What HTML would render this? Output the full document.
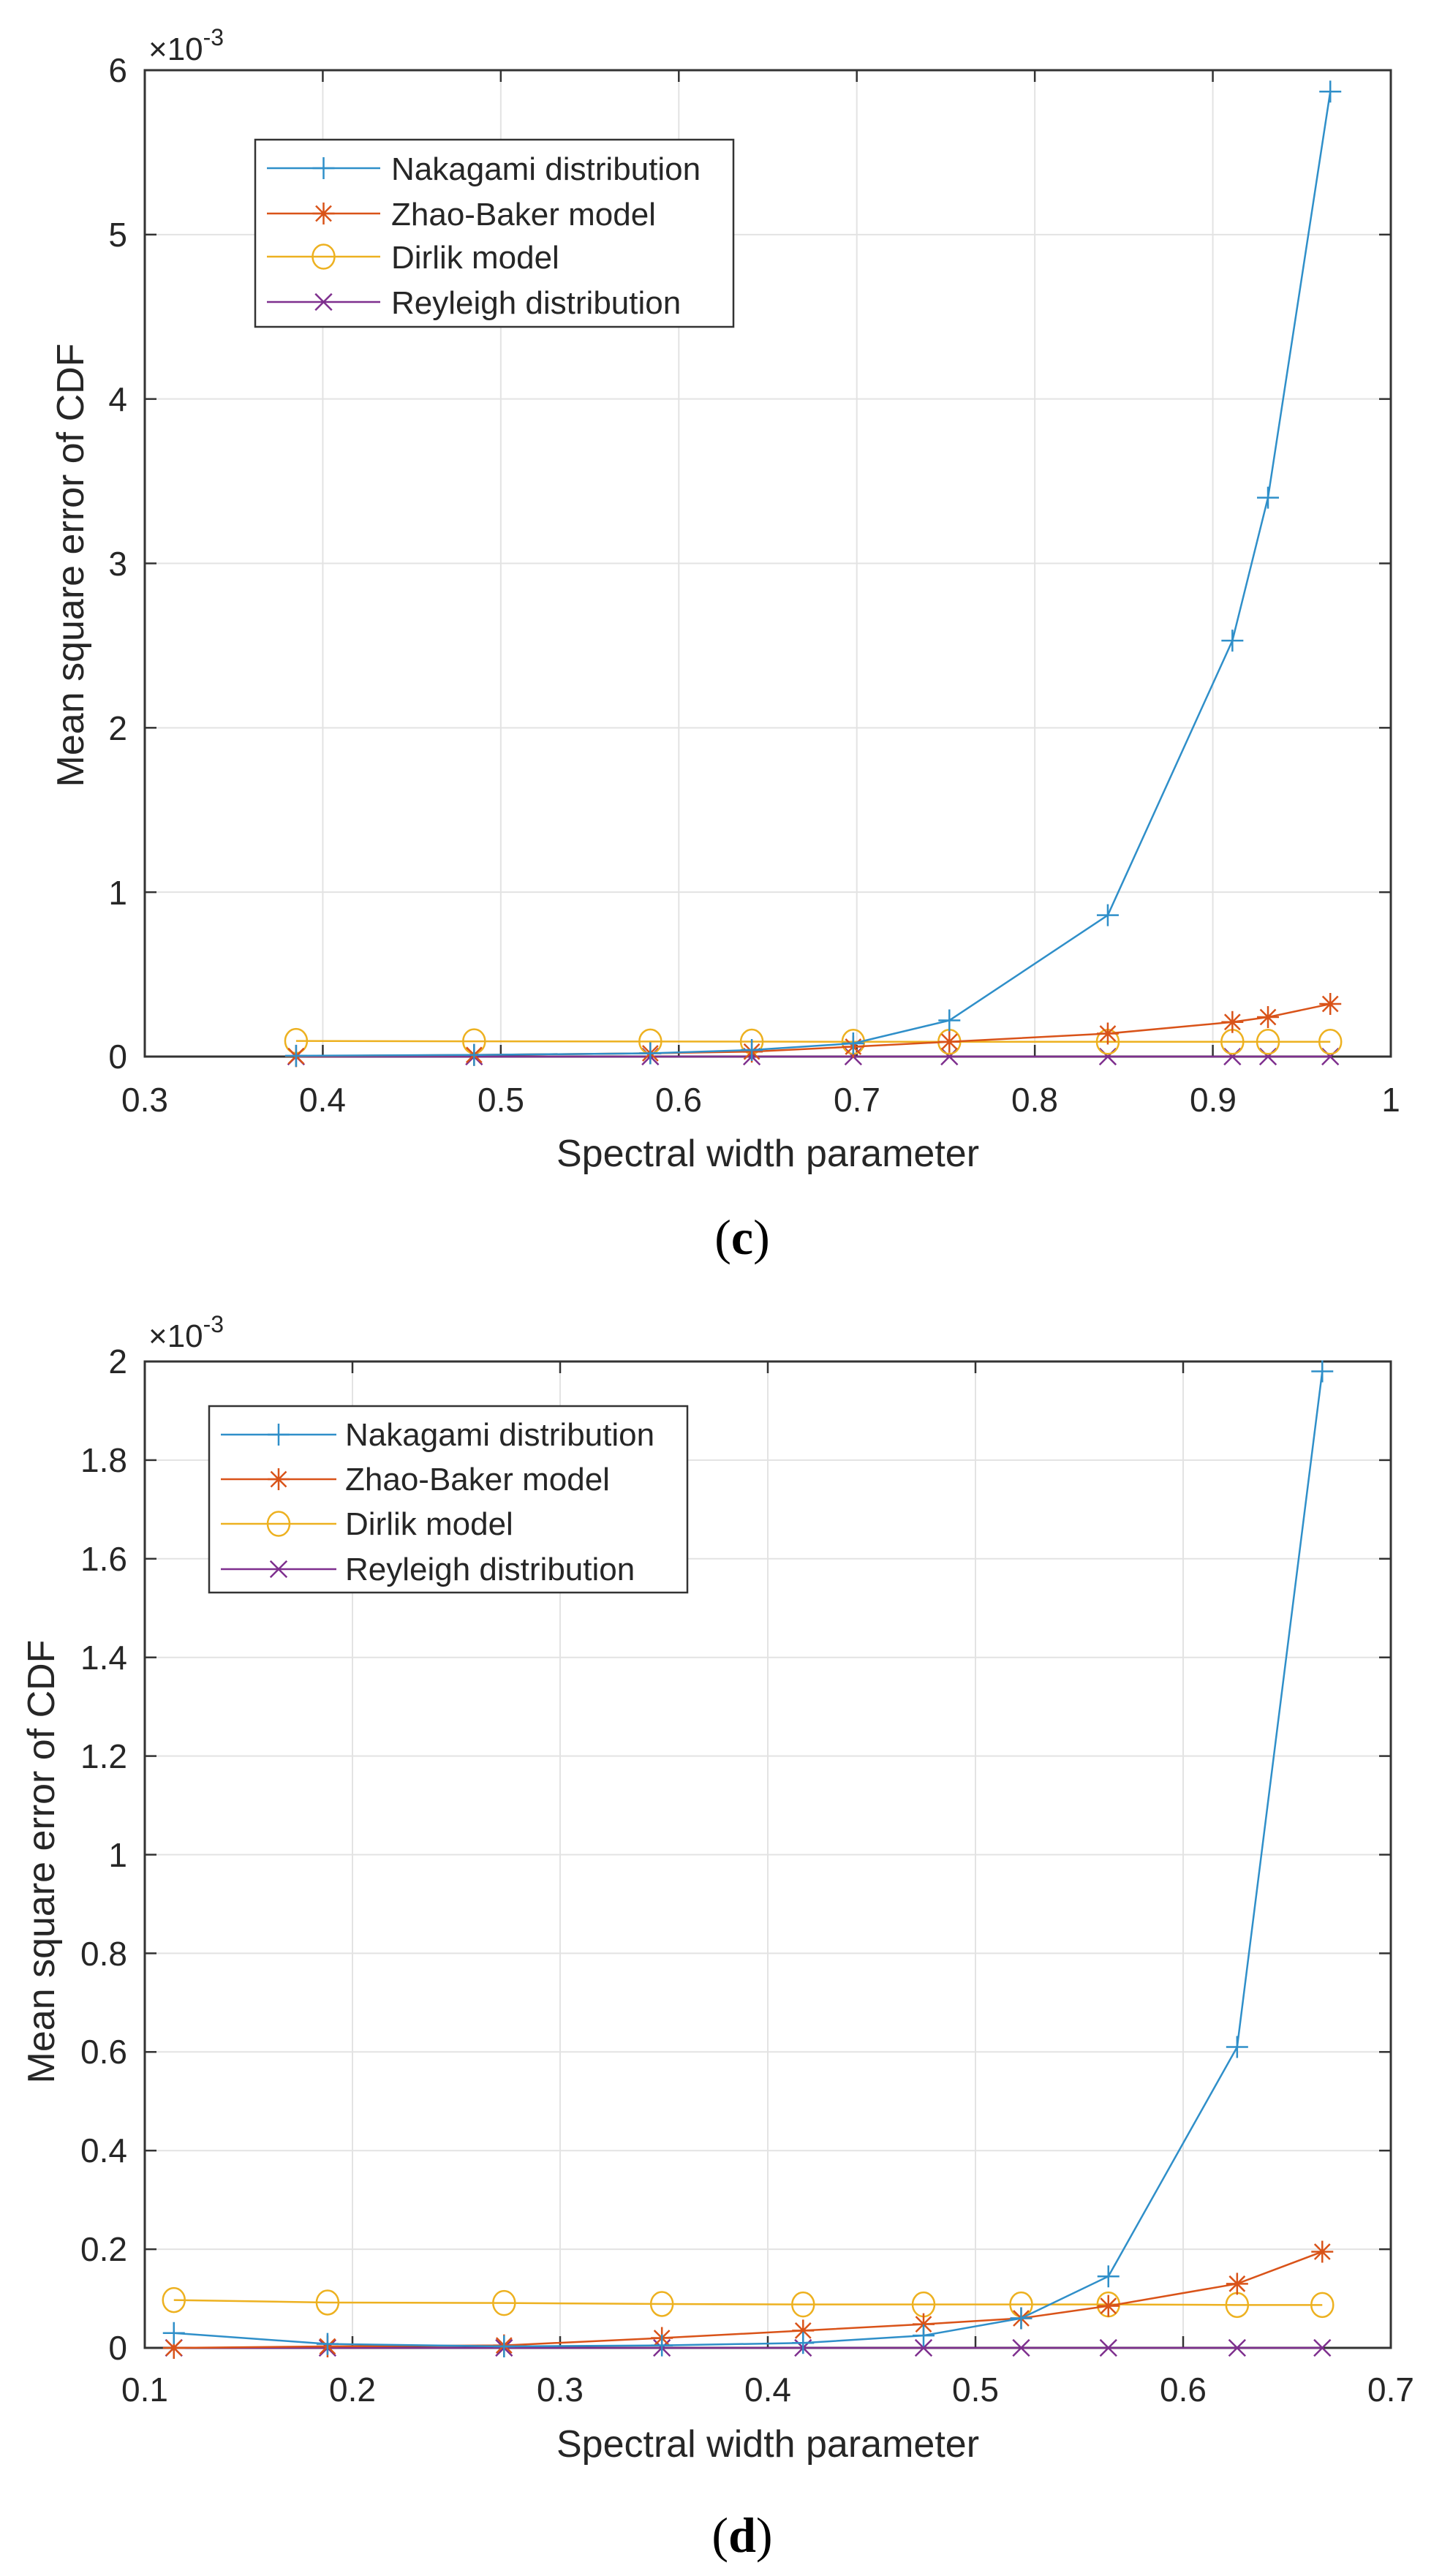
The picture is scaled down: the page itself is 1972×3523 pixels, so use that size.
<!DOCTYPE html>
<html><head><meta charset="utf-8"><style>
html,body{margin:0;padding:0;background:#fff;}
svg{display:block;}
text{font-family:"Liberation Sans",sans-serif;fill:#262626;}
</style></head><body>
<svg id="s" width="1972" height="3523" viewBox="0 0 1972 3523" xmlns="http://www.w3.org/2000/svg">
<g id="g"></g>
<!-- Chart c texts -->
<g font-size="46" text-anchor="end">
<text x="174" y="112">6</text><text x="174" y="337">5</text><text x="174" y="562">4</text>
<text x="174" y="787">3</text><text x="174" y="1012">2</text><text x="174" y="1237">1</text><text x="174" y="1461">0</text>
</g>
<g font-size="46" text-anchor="middle">
<text x="198" y="1520">0.3</text><text x="441" y="1520">0.4</text><text x="685" y="1520">0.5</text>
<text x="928" y="1520">0.6</text><text x="1172" y="1520">0.7</text><text x="1415" y="1520">0.8</text>
<text x="1659" y="1520">0.9</text><text x="1902" y="1520">1</text>
</g>
<text x="203" y="82" font-size="44">×10<tspan font-size="32" dy="-20">-3</tspan></text>
<text x="1050" y="1595" font-size="52" text-anchor="middle">Spectral width parameter</text>
<text transform="translate(114,773) rotate(-90)" font-size="52" text-anchor="middle">Mean square error of CDF</text>
<text x="1015" y="1715" font-size="68" text-anchor="middle" style="font-family:'Liberation Serif',serif;fill:#000">(<tspan font-weight="bold">c</tspan>)</text>
<g font-size="44">
<text x="535" y="246">Nakagami distribution</text>
<text x="535" y="308">Zhao-Baker model</text>
<text x="535" y="367">Dirlik model</text>
<text x="535" y="429">Reyleigh distribution</text>
</g>
<!-- Chart d texts -->
<g font-size="46" text-anchor="end">
<text x="174" y="1878">2</text><text x="174" y="2013">1.8</text><text x="174" y="2148">1.6</text>
<text x="174" y="2283">1.4</text><text x="174" y="2418">1.2</text><text x="174" y="2553">1</text>
<text x="174" y="2688">0.8</text><text x="174" y="2822">0.6</text><text x="174" y="2957">0.4</text>
<text x="174" y="3092">0.2</text><text x="174" y="3227">0</text>
</g>
<g font-size="46" text-anchor="middle">
<text x="198" y="3284">0.1</text><text x="482" y="3284">0.2</text><text x="766" y="3284">0.3</text>
<text x="1050" y="3284">0.4</text><text x="1334" y="3284">0.5</text><text x="1618" y="3284">0.6</text>
<text x="1902" y="3284">0.7</text>
</g>
<text x="203" y="1842" font-size="44">×10<tspan font-size="32" dy="-20">-3</tspan></text>
<text x="1050" y="3360" font-size="52" text-anchor="middle">Spectral width parameter</text>
<text transform="translate(74,2546) rotate(-90)" font-size="52" text-anchor="middle">Mean square error of CDF</text>
<text x="1015" y="3490" font-size="68" text-anchor="middle" style="font-family:'Liberation Serif',serif;fill:#000">(<tspan font-weight="bold">d</tspan>)</text>
<g font-size="44">
<text x="472" y="1977">Nakagami distribution</text>
<text x="472" y="2038">Zhao-Baker model</text>
<text x="472" y="2099">Dirlik model</text>
<text x="472" y="2161">Reyleigh distribution</text>
</g>
</svg>
<script>
var NS="http://www.w3.org/2000/svg",G=document.getElementById('g');
function el(n,a){var e=document.createElementNS(NS,n);for(var k in a)e.setAttribute(k,a[k]);G.appendChild(e);return e;}
var C=['#2f8fc9','#d95319','#edb120','#7e2f8e'];
function marker(t,x,y,c,s){s=s||15;
 if(t==0){el('path',{d:'M'+(x-s)+' '+y+'H'+(x+s)+'M'+x+' '+(y-s)+'V'+(y+s),stroke:c,'stroke-width':2.5,fill:'none'});}
 else if(t==1){var d='M'+(x-s)+' '+y+'H'+(x+s)+'M'+x+' '+(y-s)+'V'+(y+s)+'M'+(x-s*.7)+' '+(y-s*.7)+'L'+(x+s*.7)+' '+(y+s*.7)+'M'+(x-s*.7)+' '+(y+s*.7)+'L'+(x+s*.7)+' '+(y-s*.7);el('path',{d:d,stroke:c,'stroke-width':2.5,fill:'none'});}
 else if(t==2){el('ellipse',{cx:x,cy:y,rx:s,ry:s*1.1,stroke:c,'stroke-width':2.5,fill:'none'});}
 else {var k=s*.75;el('path',{d:'M'+(x-k)+' '+(y-k)+'L'+(x+k)+' '+(y+k)+'M'+(x-k)+' '+(y+k)+'L'+(x+k)+' '+(y-k),stroke:c,'stroke-width':2.5,fill:'none'});}
}
function chart(o){
 var L=198,R=1902,T=o.T,B=o.B;
 for(var i=0;i<o.xt.length;i++){var x=L+(o.xt[i]-o.x0)/(o.x1-o.x0)*(R-L);el('line',{x1:x,y1:T,x2:x,y2:B,stroke:'#e3e3e3','stroke-width':2});
  el('line',{x1:x,y1:B,x2:x,y2:B-16,stroke:'#333','stroke-width':2.5});el('line',{x1:x,y1:T,x2:x,y2:T+16,stroke:'#333','stroke-width':2.5});}
 for(var i=0;i<o.yt.length;i++){var y=B-o.yt[i]/o.y1*(B-T);el('line',{x1:L,y1:y,x2:R,y2:y,stroke:'#e3e3e3','stroke-width':2});
  el('line',{x1:L,y1:y,x2:L+16,y2:y,stroke:'#333','stroke-width':2.5});el('line',{x1:R,y1:y,x2:R-16,y2:y,stroke:'#333','stroke-width':2.5});}
 el('rect',{x:L,y:T,width:R-L,height:B-T,fill:'none',stroke:'#333','stroke-width':3});
 var order=[3,2,1,0];
 order.forEach(function(s){var pts=o.xs.map(function(v,i){return [L+(v-o.x0)/(o.x1-o.x0)*(R-L),B-o.ys[s][i]/o.y1*(B-T)];});
  el('polyline',{points:pts.map(function(p){return p.join(',')}).join(' '),fill:'none',stroke:C[s],'stroke-width':2.5});
  pts.forEach(function(p){marker(s,p[0],p[1],C[s]);});});
 var lg=o.lg;el('rect',{x:lg[0],y:lg[1],width:lg[2]-lg[0],height:lg[3]-lg[1],fill:'#fff',stroke:'#333','stroke-width':2.5});
 for(var s=0;s<4;s++){var y=lg[4][s];el('line',{x1:lg[5],y1:y,x2:lg[6],y2:y,stroke:C[s],'stroke-width':2.5});marker(s,(lg[5]+lg[6])/2,y,C[s]);}
}
chart({T:96,B:1445,x0:0.3,x1:1,y1:6,xt:[0.3,0.4,0.5,0.6,0.7,0.8,0.9,1],yt:[0,1,2,3,4,5,6],
 xs:[0.385,0.485,0.584,0.641,0.698,0.752,0.841,0.911,0.931,0.966],
 ys:[[0.005,0.01,0.02,0.04,0.08,0.22,0.86,2.53,3.4,5.87],
     [0.003,0.01,0.02,0.03,0.06,0.09,0.14,0.21,0.24,0.32],
     [0.095,0.093,0.092,0.091,0.09,0.09,0.09,0.09,0.09,0.09],
     [0,0,0,0,0,0,0,0,0,0]],
 lg:[349,191,1003,447,[230,292,351,413],365,520]});
chart({T:1862,B:3211,x0:0.1,x1:0.7,y1:2,xt:[0.1,0.2,0.3,0.4,0.5,0.6,0.7],yt:[0,0.2,0.4,0.6,0.8,1,1.2,1.4,1.6,1.8,2],
 xs:[0.114,0.188,0.273,0.349,0.417,0.475,0.522,0.564,0.626,0.667],
 ys:[[0.03,0.008,0.003,0.005,0.01,0.025,0.06,0.145,0.61,1.98],
     [0.0,0.003,0.005,0.02,0.035,0.048,0.06,0.085,0.13,0.195],
     [0.097,0.092,0.091,0.089,0.088,0.088,0.088,0.088,0.087,0.087],
     [0,0,0,0,0,0,0,0,0,0]],
 lg:[286,1923,940,2178,[1962,2023,2084,2146],302,460]});
</script>
</body></html>
